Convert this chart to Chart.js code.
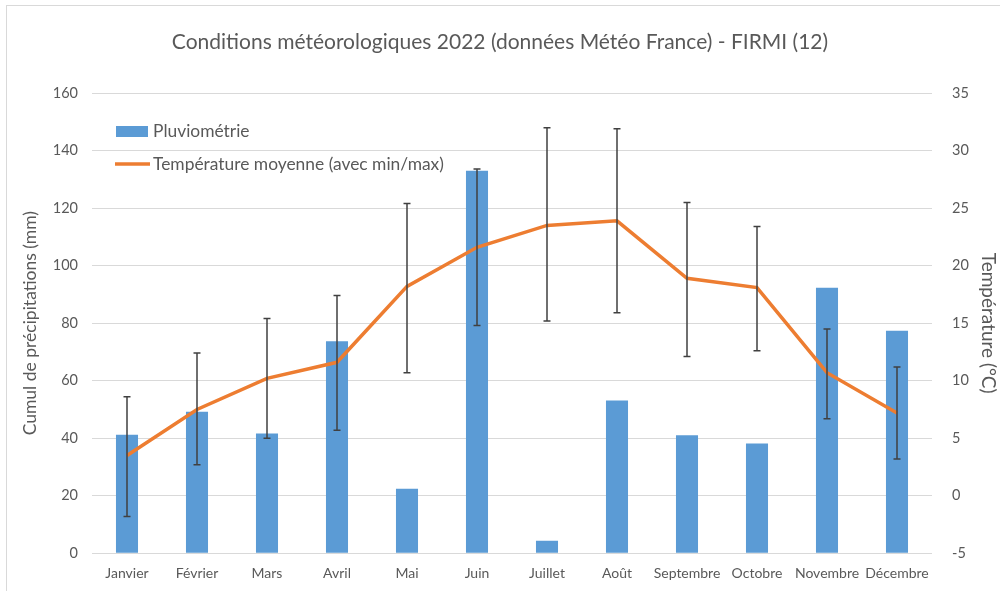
<!DOCTYPE html>
<html lang="fr">
<head>
    <meta charset="UTF-8">
    <title>Conditions météorologiques 2022 - FIRMI</title>
    <script src="https://cdn.jsdelivr.net/npm/chart.js@4.4.1/dist/chart.umd.min.js"></script>
    <style>
        body { margin: 0; background: #fff; }
        #cadre { position: absolute; left: 6px; top: 5px; width: 1000px; height: 600px; border: 1px solid #d9d9d9; }
        #zone { position: absolute; left: 0; top: 0; width: 1000px; height: 591px; }
    </style>
</head>
<body>
    <div id="cadre"></div>
    <div id="zone"><canvas id="graphique" width="1000" height="591"></canvas></div>

    <script>
        // Données
        const mois = ["Janvier", "Février", "Mars", "Avril", "Mai", "Juin", "Juillet", "Août", "Septembre", "Octobre", "Novembre", "Décembre"];
        const pluie = [41.2, 49.2, 41.6, 73.7, 22.4, 133.0, 4.3, 53.1, 41.0, 38.2, 92.3, 77.4];
        const tempMoy = [3.5, 7.5, 10.2, 11.6, 18.2, 21.6, 23.5, 23.9, 18.9, 18.1, 10.7, 7.2];
        const tempMin = [-1.8, 2.7, 5.0, 5.7, 10.7, 14.8, 15.2, 15.9, 12.1, 12.6, 6.7, 3.2];
        const tempMax = [8.6, 12.4, 15.4, 17.4, 25.4, 28.4, 32.0, 31.9, 25.5, 23.4, 14.5, 11.2];

        const police = "Lato, 'Liberation Sans', sans-serif";
        const gris = "#595959";

        // Barres d'erreur min/max sur la température
        const barresErreur = {
            id: "barresErreur",
            afterDatasetsDraw(chart) {
                const ctx = chart.ctx;
                const x = chart.scales.x;
                const y = chart.scales.y1;
                ctx.save();
                ctx.strokeStyle = "#404040";
                ctx.lineWidth = 1.5;
                mois.forEach((m, i) => {
                    const px = x.getPixelForValue(i);
                    const haut = y.getPixelForValue(tempMax[i]);
                    const bas = y.getPixelForValue(tempMin[i]);
                    ctx.beginPath();
                    ctx.moveTo(px, haut);
                    ctx.lineTo(px, bas);
                    ctx.moveTo(px - 3.5, haut);
                    ctx.lineTo(px + 3.5, haut);
                    ctx.moveTo(px - 3.5, bas);
                    ctx.lineTo(px + 3.5, bas);
                    ctx.stroke();
                });
                ctx.restore();
            }
        };

        // Légende placée dans la zone de tracé
        const legendeInterne = {
            id: "legendeInterne",
            afterDraw(chart) {
                const ctx = chart.ctx;
                ctx.save();
                ctx.fillStyle = "#5b9bd5";
                ctx.fillRect(116, 126, 32, 11);
                ctx.strokeStyle = "#ed7d31";
                ctx.lineWidth = 3.5;
                ctx.beginPath();
                ctx.moveTo(115, 164);
                ctx.lineTo(150, 164);
                ctx.stroke();
                ctx.fillStyle = gris;
                ctx.font = "17.4px " + police;
                ctx.textBaseline = "middle";
                ctx.fillText("Pluviométrie", 153, 131);
                ctx.fillText("Température moyenne (avec min/max)", 153, 164);
                ctx.restore();
            }
        };

        new Chart(document.getElementById("graphique"), {
            data: {
                labels: mois,
                datasets: [
                    {
                        type: "line",
                        label: "Température moyenne (avec min/max)",
                        data: tempMoy,
                        yAxisID: "y1",
                        borderColor: "#ed7d31",
                        borderWidth: 3.5,
                        pointRadius: 0,
                        tension: 0,
                        order: 0
                    },
                    {
                        type: "bar",
                        label: "Pluviométrie",
                        data: pluie,
                        yAxisID: "y",
                        backgroundColor: "#5b9bd5",
                        categoryPercentage: 1,
                        barPercentage: 0.315,
                        order: 1
                    }
                ]
            },
            options: {
                responsive: false,
                animation: false,
                layout: { padding: { top: 0, left: 0, right: 0, bottom: 5 } },
                plugins: {
                    legend: { display: false },
                    tooltip: { enabled: false },
                    title: {
                        display: true,
                        text: "Conditions météorologiques 2022 (données Météo France) - FIRMI (12)",
                        color: gris,
                        font: { family: police, size: 21, weight: "normal" },
                        padding: { top: 30, bottom: 38 }
                    }
                },
                scales: {
                    x: {
                        grid: { display: false },
                        border: { display: false },
                        ticks: { color: gris, font: { family: police, size: 14 }, maxRotation: 0, autoSkip: false, padding: 4 }
                    },
                    y: {
                        position: "left",
                        min: 0,
                        max: 160,
                        afterFit(s) { s.width = 92; },
                        grid: { color: "#d9d9d9", drawTicks: false },
                        border: { display: false },
                        ticks: { stepSize: 20, color: gris, font: { family: police, size: 14.5 }, padding: 14 },
                        title: {
                            display: true,
                            text: "Cumul de précipitations (mm)",
                            color: gris,
                            font: { family: police, size: 17.5 },
                            padding: { top: 20, bottom: 0 }
                        }
                    },
                    y1: {
                        position: "right",
                        min: -5,
                        max: 35,
                        afterFit(s) { s.width = 68; },
                        grid: { display: false },
                        border: { display: false },
                        ticks: { stepSize: 5, color: gris, font: { family: police, size: 14.5 }, padding: 12 },
                        title: {
                            display: true,
                            text: "Température (°C)",
                            color: gris,
                            font: { family: police, size: 19 },
                            padding: { top: 0, bottom: 0 }
                        }
                    }
                }
            },
            plugins: [barresErreur, legendeInterne]
        });
    </script>
</body>
</html>
